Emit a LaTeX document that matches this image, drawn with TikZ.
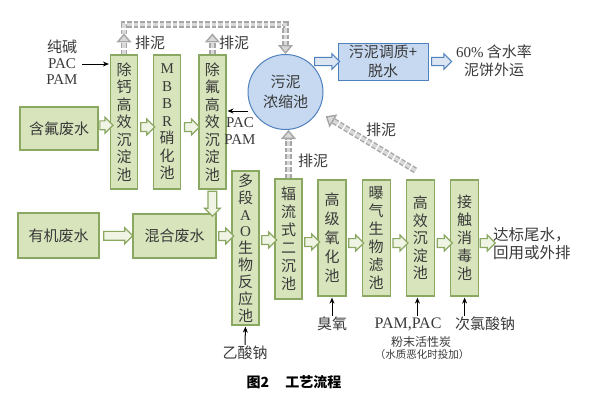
\documentclass[tikz,border=0pt]{standalone}
\usepackage{fontspec}
\setmainfont{Noto Sans CJK SC}
\newfontfamily\lat{Liberation Serif}
\usetikzlibrary{positioning,arrows.meta,shapes.arrows,calc}
\definecolor{boxgreen}{HTML}{D8E4BC}
\definecolor{edgegreen}{HTML}{8BA862}
\definecolor{arrgreen}{HTML}{EFF4E4}
\definecolor{boxblue}{HTML}{C6D9F1}
\definecolor{edgeblue}{HTML}{4F81BD}
\definecolor{arrblue}{HTML}{DCE6F2}
\definecolor{ink}{HTML}{3A3A3A}
\definecolor{mud}{HTML}{A6A6A6}
\definecolor{mudfill}{HTML}{D9D9D9}

\begin{document}
\begin{tikzpicture}[x=1pt, y=-1pt, font=\fontsize{15}{17.5}\selectfont, text=ink,
  tank/.style={draw=edgegreen, fill=boxgreen, line width=1.2pt, inner sep=0pt, minimum width=27pt, align=center},
  wide/.style={tank, minimum width=80pt, minimum height=44pt},
  sbox/.style={draw=edgeblue, fill=boxblue, line width=1pt, inner sep=0pt, align=center},
  garr/.style={single arrow, draw=edgegreen, fill=arrgreen, line width=1.2pt, inner sep=3.8pt,
    single arrow head extend=3.6pt, minimum height=#1, anchor=center},
  barr/.style={single arrow, draw=edgeblue, fill=arrblue, line width=1.1pt, inner sep=3.6pt,
    single arrow head extend=3.6pt, minimum height=#1, anchor=center},
  sludge/.style={draw=mud, double=mudfill, double distance=3.4pt, line width=1.4pt,
    dash pattern=on 4.5pt off 2pt, -{Triangle[length=9pt, width=15pt, fill=mudfill]}},
  dose/.style={-{Stealth[length=6pt, width=5pt]}, line width=1pt, black, shorten >=1pt},
  lbl/.style={inner sep=1pt}]
\useasboundingbox (0,0) rectangle (591,408);

% fluoride line
\node[tank, minimum height=134pt] (chuGai) at (124,122) {除\\钙\\高\\效\\沉\\淀\\池};
\node[tank, minimum height=134pt, right=15pt of chuGai] (mbbr) {{\lat M}\\{\lat B}\\{\lat B}\\{\lat R}\\硝\\化\\池};
\node[tank, minimum height=134pt, right=17pt of mbbr] (chuFu) {除\\氟\\高\\效\\沉\\淀\\池};
\node[wide, minimum width=78pt, minimum height=43pt] (hanFu) at (59,128.5) {含氟废水};

% sludge
\node[circle, draw=edgeblue, fill=boxblue, line width=1pt, minimum size=75pt, inner sep=0pt, align=center,
  font=\fontsize{15}{20}\selectfont] (nongSuo) at (285.5,92) {污泥\\浓缩池};
\node[sbox, minimum width=90pt, minimum height=37pt, font=\fontsize{15}{19}\selectfont] (tiaoZhi) at (383,61.5) {污泥调质+\\脱水};
\node[lbl, align=center, font=\fontsize{15}{18}\selectfont] (cake) at (494,61) {{\lat 60\%} 含水率\\泥饼外运};

% main line
\node[wide, minimum width=81pt, minimum height=45pt] (youJi) at (58.5,235.5) {有机废水};
\node[wide, minimum width=83pt, minimum height=44pt] (hunHe) at (174.5,236) {混合废水};
\node[tank, minimum height=154pt, font=\fontsize{15}{16.9}\selectfont] (ao) at (245.5,248)
  {多\\段\\{\lat A}\\{\lat O}\\生\\物\\反\\应\\池};
\node[tank, minimum height=120pt, font=\fontsize{15}{18}\selectfont] (erChen) at (288.5,239) {辐\\流\\式\\二\\沉\\池};
\node[tank, minimum width=28pt, minimum height=116pt, font=\fontsize{15}{19}\selectfont] (gaoJi) at (332,238) {高\\级\\氧\\化\\池};
\node[tank, minimum width=28pt, minimum height=116pt, font=\fontsize{15}{18}\selectfont, right=15pt of gaoJi] (baQi) {曝\\气\\生\\物\\滤\\池};
\node[tank, minimum width=28pt, minimum height=116pt, font=\fontsize{15}{17.5}\selectfont, right=15pt of baQi] (gaoXiao) {高\\效\\沉\\淀\\池};
\node[tank, minimum width=28pt, minimum height=116pt, font=\fontsize{15}{18}\selectfont, right=15pt of gaoXiao] (jieChu) {接\\触\\消\\毒\\池};
\node[lbl, anchor=west, align=left, font=\fontsize{15.5}{18}\selectfont] (outFlow) at (492,244) {达标尾水，\\回用或外排};

% flow arrows
\node[garr=13pt] (f1) at ($(hanFu.east)!.5!(chuGai.west)$) {};
\node[garr=14pt] (f2) at ($(chuGai.east)!.5!(mbbr.west)+(0,5)$) {};
\node[garr=15pt] (f3) at ($(mbbr.east)!.5!(chuFu.west)+(0,5)$) {};
\node[garr=25pt, shape border rotate=270] (f4) at ($(chuFu.south)!.5!(chuFu.south |- hunHe.north)$) {};
\node[garr=29pt] (f5) at ($(youJi.east)!.5!(hunHe.west)$) {};
\node[garr=15pt] (f6) at ($(hunHe.east)!.5!(ao.west |- hunHe.east)$) {};
\node[garr=15pt] (f7) at ($(ao.east |- erChen.east)!.5!(erChen.west)+(0,1)$) {};
\node[garr=15pt] (f8) at ($(erChen.east)!.5!(gaoJi.west |- erChen.east)+(0,3)$) {};
\node[garr=15pt] (f9) at ($(gaoJi.east)!.5!(baQi.west)+(0,5)$) {};
\node[garr=15pt] (f10) at ($(baQi.east)!.5!(gaoXiao.west)+(0,5)$) {};
\node[garr=15pt] (f11) at ($(gaoXiao.east)!.5!(jieChu.west)+(0,5)$) {};
\node[garr=15pt] (f12) at ($(jieChu.east)!.5!(outFlow.west |- jieChu.east)+(0,5)$) {};
\node[barr=25pt] (s1) at ($(tiaoZhi.west)+(-12.5,0)$) {};
\node[barr=20pt] (s2) at ($(tiaoZhi.east)+(11,0)$) {};

% sludge return
\coordinate (pipeL) at ($(chuGai.north)+(0,-30)$);
\coordinate (pipeR) at (nongSuo.north |- pipeL);
\draw[sludge] ($(chuGai.north)+(0,-20)$) -- (pipeL) -- (pipeR) -- (nongSuo.north);
\draw[sludge] (chuGai.north) -- ++(0,-21);
\draw[sludge] (chuFu.north) -- ++(0,-21);
\draw[sludge] (erChen.north) -- (erChen.north |- nongSuo.south);
\coordinate (diagS) at ($(gaoXiao.north)+(-5,-9)$);
\draw[sludge, shorten >=9pt] (diagS) -- (nongSuo);
\node[lbl] (pn1) at (150,43) {排泥};
\node[lbl] (pn2) at (234,43) {排泥};
\node[lbl] (pn3) at (313,161) {排泥};
\node[lbl] (pn4) at (381,130) {排泥};

% dosing
\node[lbl] (chunJian) at (62,47) {纯碱};
\node[lbl] (pac1) at (62,63.5) {\lat PAC};
\node[lbl] (pam1) at (62,80) {\lat PAM};
\coordinate (dose1) at (82,64);
\draw[dose] (dose1) -- (chuGai.west |- dose1);
\node[lbl] (pac2) at (240,123) {\lat PAC};
\node[lbl] (pam2) at (240,140) {\lat PAM};
\coordinate (dose2) at (248,111);
\draw[dose] (dose2) -- (chuFu.east |- dose2);
\node[lbl] (yiSuan) at (245,353) {乙酸钠};
\draw[dose] (yiSuan.north) -- (ao.south);
\node[lbl] (chouYang) at (332,324) {臭氧};
\draw[dose] (chouYang.north) -- (gaoJi.south);
\node[lbl, font=\lat\fontsize{16}{18}\selectfont] (pamPac) at (408,324) {PAM,PAC};
\draw[dose] ($(gaoXiao.south |- pamPac.north)+(-3,0)$) -- ($(gaoXiao.south)+(-3,0)$);
\node[lbl] (ciLv) at (485,324) {次氯酸钠};
\draw[dose] (jieChu.south |- ciLv.north) -- (jieChu.south);
\node[lbl, font=\fontsize{12}{13}\selectfont] (fenMo) at (421,342) {粉末活性炭};
\node[lbl, font=\fontsize{10.5}{12}\selectfont] (tiaoJian) at (422,355) {（水质恶化时投加）};

\node[lbl, text=black, font=\bfseries\fontsize{14}{16}\selectfont] (caption) at (294,382) {图2\hspace{16pt}工艺流程};
\end{tikzpicture}
\end{document}
